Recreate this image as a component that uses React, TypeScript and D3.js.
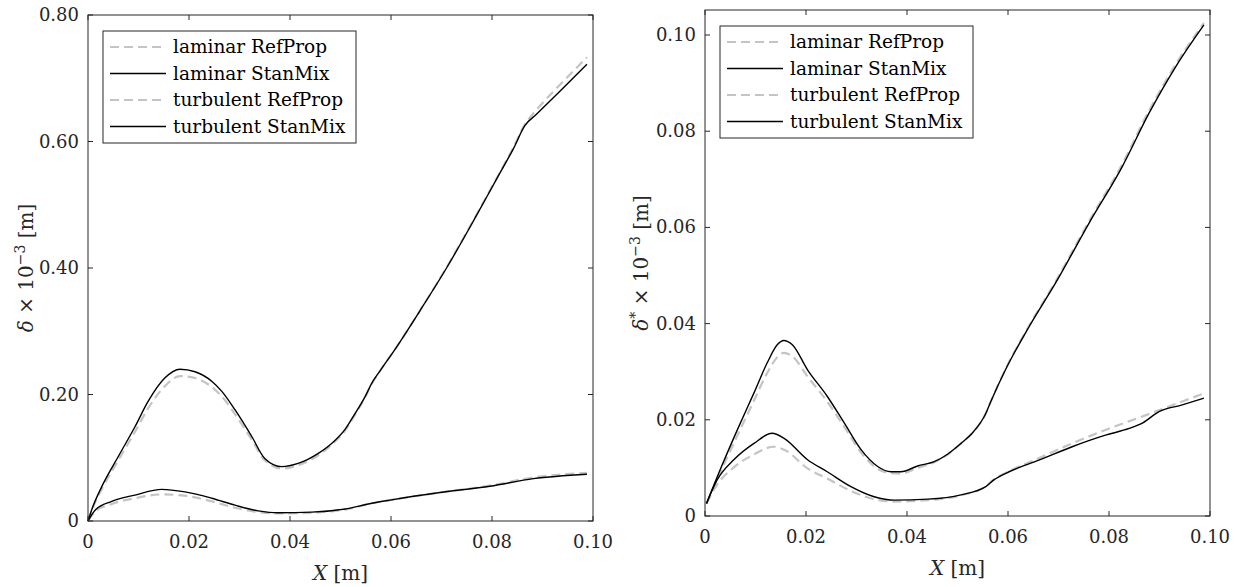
import React from "react";
import * as d3 from "d3";

type Pt = [number, number];

// ---------- Left panel: boundary layer thickness δ ----------
const leftTurbulentRefProp: Pt[] = [
  [0, 0], [0.0007, 0.016], [0.0027, 0.05], [0.006, 0.096], [0.0093, 0.141], [0.0119, 0.178],
  [0.0152, 0.213], [0.0182, 0.229], [0.0212, 0.226], [0.0245, 0.212], [0.0265, 0.197],
  [0.0291, 0.169], [0.0324, 0.129], [0.035, 0.096], [0.0384, 0.083], [0.0416, 0.088],
  [0.0456, 0.104], [0.0483, 0.121], [0.0509, 0.143], [0.0525, 0.163], [0.0549, 0.196],
  [0.0562, 0.217], [0.0578, 0.237], [0.0611, 0.275], [0.0657, 0.332], [0.071, 0.401],
  [0.0763, 0.475], [0.0812, 0.546], [0.0842, 0.59], [0.0865, 0.627], [0.0888, 0.65],
  [0.0935, 0.69], [0.0988, 0.733],
];
const leftTurbulentStanMix: Pt[] = [
  [0, 0], [0.0007, 0.017], [0.0027, 0.054], [0.006, 0.102], [0.0093, 0.149], [0.0119, 0.189],
  [0.0152, 0.226], [0.0182, 0.24], [0.0212, 0.236], [0.0245, 0.221], [0.0265, 0.205],
  [0.0291, 0.176], [0.0324, 0.134], [0.035, 0.099], [0.0384, 0.086], [0.0416, 0.091],
  [0.0456, 0.107], [0.0483, 0.123], [0.0509, 0.145], [0.0525, 0.165], [0.0549, 0.197],
  [0.0562, 0.218], [0.0578, 0.237], [0.0611, 0.275], [0.0657, 0.332], [0.071, 0.4],
  [0.0763, 0.474], [0.0812, 0.545], [0.0842, 0.588], [0.0865, 0.625], [0.0888, 0.643],
  [0.0935, 0.68], [0.0988, 0.722],
];
const leftLaminarRefProp: Pt[] = [
  [0, 0], [0.0014, 0.015], [0.0047, 0.027], [0.0093, 0.036], [0.0146, 0.042], [0.0192, 0.04],
  [0.0245, 0.031], [0.0291, 0.021], [0.0337, 0.014], [0.0377, 0.012], [0.0443, 0.013],
  [0.0509, 0.018], [0.0562, 0.028], [0.0598, 0.033], [0.0697, 0.045], [0.0796, 0.056],
  [0.0882, 0.069], [0.0988, 0.076],
];
const leftLaminarStanMix: Pt[] = [
  [0, 0], [0.0014, 0.017], [0.0047, 0.031], [0.0093, 0.041], [0.0146, 0.05], [0.0192, 0.046],
  [0.0245, 0.036], [0.0291, 0.025], [0.0337, 0.016], [0.0377, 0.013], [0.0443, 0.014],
  [0.0509, 0.019], [0.0562, 0.028], [0.0598, 0.033], [0.0697, 0.045], [0.0796, 0.055],
  [0.0882, 0.067], [0.0988, 0.074],
];

// ---------- Right panel: displacement thickness δ* ----------
const rightTurbulentRefProp: Pt[] = [
  [0.0003, 0.0026], [0.003, 0.009], [0.0064, 0.0167], [0.0097, 0.024], [0.0123, 0.0297],
  [0.0143, 0.033], [0.0156, 0.0339], [0.0173, 0.0332], [0.0203, 0.029], [0.0242, 0.0238],
  [0.0276, 0.0185], [0.0309, 0.0132], [0.0342, 0.0098], [0.0368, 0.0089], [0.0388, 0.0088],
  [0.0421, 0.01], [0.0454, 0.0112], [0.0481, 0.0128], [0.0507, 0.0151], [0.0529, 0.0172],
  [0.0556, 0.0213], [0.0566, 0.0238], [0.0595, 0.0305], [0.0642, 0.0396], [0.0694, 0.0487],
  [0.076, 0.0612], [0.0826, 0.0731], [0.0879, 0.0842], [0.0932, 0.0939], [0.0988, 0.1025],
];
const rightTurbulentStanMix: Pt[] = [
  [0.0003, 0.0026], [0.003, 0.0096], [0.0064, 0.0179], [0.0097, 0.0256], [0.0123, 0.0318],
  [0.0143, 0.0356], [0.0156, 0.0365], [0.0173, 0.0356], [0.0203, 0.0304], [0.0242, 0.0249],
  [0.0276, 0.0193], [0.0309, 0.0138], [0.0342, 0.0103], [0.0368, 0.0092], [0.0388, 0.0092],
  [0.0421, 0.0104], [0.0454, 0.0113], [0.0481, 0.0129], [0.0507, 0.0151], [0.0529, 0.0172],
  [0.0556, 0.0213], [0.0566, 0.0238], [0.0595, 0.0304], [0.0642, 0.0394], [0.0694, 0.0484],
  [0.076, 0.0608], [0.0826, 0.0726], [0.0879, 0.0837], [0.0932, 0.0934], [0.0988, 0.1021],
];
const rightLaminarRefProp: Pt[] = [
  [0.0003, 0.0026], [0.0024, 0.0065], [0.0057, 0.0101], [0.0097, 0.0128], [0.0136, 0.0144],
  [0.016, 0.0136], [0.0203, 0.0099], [0.0242, 0.0078], [0.0289, 0.0052], [0.0335, 0.0035],
  [0.0375, 0.003], [0.0441, 0.0033], [0.0507, 0.0043], [0.0556, 0.0062], [0.0572, 0.0076],
  [0.0602, 0.0093], [0.0661, 0.012], [0.0727, 0.0151], [0.0793, 0.0179], [0.0866, 0.0207],
  [0.0945, 0.0238], [0.0988, 0.0255],
];
const rightLaminarStanMix: Pt[] = [
  [0.0003, 0.0026], [0.0024, 0.0075], [0.0057, 0.0117], [0.0097, 0.0151], [0.0133, 0.0172],
  [0.0156, 0.0162], [0.0203, 0.0117], [0.0242, 0.0092], [0.0289, 0.0061], [0.0335, 0.004],
  [0.0375, 0.0033], [0.0441, 0.0035], [0.0507, 0.0044], [0.0556, 0.0061], [0.0572, 0.0075],
  [0.0602, 0.0092], [0.0661, 0.0116], [0.0727, 0.0144], [0.0793, 0.0168], [0.084, 0.0182],
  [0.0866, 0.0193], [0.0899, 0.0217], [0.0945, 0.0231], [0.0988, 0.0245],
];

const xTicks = [0, 0.02, 0.04, 0.06, 0.08, 0.1];
const leftYTicks = [0, 0.2, 0.4, 0.6, 0.8];
const rightYTicks = [0, 0.02, 0.04, 0.06, 0.08, 0.1];
const legendLabels = ["laminar RefProp", "laminar StanMix", "turbulent RefProp", "turbulent StanMix"];
const legendIsRef = [true, false, true, false];

const FONT = "'DejaVu Serif', serif";
const AX = "#262626";
const GRAY = "#c4c4c4";

type PanelProps = {
  left: number; top: number; right: number; bottom: number;
  yMax: number; yTicks: number[];
  series: { data: Pt[]; ref: boolean }[];
  yLabelMain: string; star: boolean; yLabelX: number;
};

function fmt(v: number) {
  return v === 0 ? "0" : d3.format(".2f")(v);
}

function Panel(p: PanelProps) {
  const x = d3.scaleLinear().domain([0, 0.1]).range([p.left, p.right]);
  const y = d3.scaleLinear().domain([0, p.yMax]).range([p.bottom, p.top]);
  const line = d3.line<Pt>().x((d) => x(d[0])).y((d) => y(d[1])).curve(d3.curveMonotoneX);
  const tl = 5;
  const lgX = p.left + 15;
  const lgY = p.top + 16;
  const rowH = 26.5;
  const midY = (p.top + p.bottom) / 2;
  return (
    <g fontFamily={FONT}>
      {p.series.map((s, i) => (
        <path key={i} d={line(s.data) || ""} fill="none"
          stroke={s.ref ? GRAY : "#000"} strokeWidth={s.ref ? 2.2 : 1.4}
          strokeDasharray={s.ref ? "9,5" : undefined} />
      ))}
      <rect x={p.left} y={p.top} width={p.right - p.left} height={p.bottom - p.top}
        fill="none" stroke={AX} strokeWidth={1} />
      {xTicks.map((t) => (
        <g key={"x" + t}>
          <line x1={x(t)} x2={x(t)} y1={p.bottom} y2={p.bottom - tl} stroke={AX} />
          <line x1={x(t)} x2={x(t)} y1={p.top} y2={p.top + tl} stroke={AX} />
          <text x={x(t)} y={p.bottom + 27} textAnchor="middle" fontSize={18} fill={AX}>{fmt(t)}</text>
        </g>
      ))}
      {p.yTicks.map((t) => (
        <g key={"y" + t}>
          <line x1={p.left} x2={p.left + tl} y1={y(t)} y2={y(t)} stroke={AX} />
          <line x1={p.right} x2={p.right - tl} y1={y(t)} y2={y(t)} stroke={AX} />
          <text x={p.left - 9} y={y(t) + 6} textAnchor="end" fontSize={18} fill={AX}>{fmt(t)}</text>
        </g>
      ))}
      <text x={(p.left + p.right) / 2} y={p.bottom + 59} textAnchor="middle" fontSize={20} fill={AX}>
        <tspan fontStyle="italic">X</tspan> [m]
      </text>
      <text transform={`translate(${p.yLabelX},${midY}) rotate(-90)`} textAnchor="middle" fontSize={20} fill={AX}>
        <tspan fontStyle="italic">{p.yLabelMain}</tspan>
        {p.star ? <tspan fontSize={14} dy={-8}>*</tspan> : null}
        {p.star ? <tspan dy={8}> × 10</tspan> : <tspan> × 10</tspan>}
        <tspan fontSize={14} dy={-8}>−3</tspan>
        <tspan dy={8}> [m]</tspan>
      </text>
      <rect x={lgX} y={lgY} width={253} height={112} fill="#fff" stroke={AX} strokeWidth={1} />
      {legendLabels.map((lab, i) => {
        const cy = lgY + 16 + i * rowH;
        return (
          <g key={lab}>
            <line x1={lgX + 7} x2={lgX + 63} y1={cy} y2={cy}
              stroke={legendIsRef[i] ? GRAY : "#000"} strokeWidth={legendIsRef[i] ? 2.2 : 1.4}
              strokeDasharray={legendIsRef[i] ? "9,5" : undefined} />
            <text x={lgX + 70} y={cy + 6} fontSize={18.5} fill="#000">{lab}</text>
          </g>
        );
      })}
    </g>
  );
}

export default function App() {
  return (
    <svg width={1235} height={587} style={{ position: "absolute", left: 0, top: 0, background: "#fff" }}>
      <rect width={1235} height={587} fill="#fff" />
      <Panel left={88} top={15} right={593} bottom={521} yMax={0.8} yTicks={leftYTicks}
        series={[
          { data: leftLaminarRefProp, ref: true },
          { data: leftTurbulentRefProp, ref: true },
          { data: leftLaminarStanMix, ref: false },
          { data: leftTurbulentStanMix, ref: false },
        ]}
        yLabelMain="δ" star={false} yLabelX={33} />
      <Panel left={705} top={10} right={1210} bottom={516} yMax={0.1052} yTicks={rightYTicks}
        series={[
          { data: rightLaminarRefProp, ref: true },
          { data: rightTurbulentRefProp, ref: true },
          { data: rightLaminarStanMix, ref: false },
          { data: rightTurbulentStanMix, ref: false },
        ]}
        yLabelMain="δ" star={true} yLabelX={648} />
    </svg>
  );
}
